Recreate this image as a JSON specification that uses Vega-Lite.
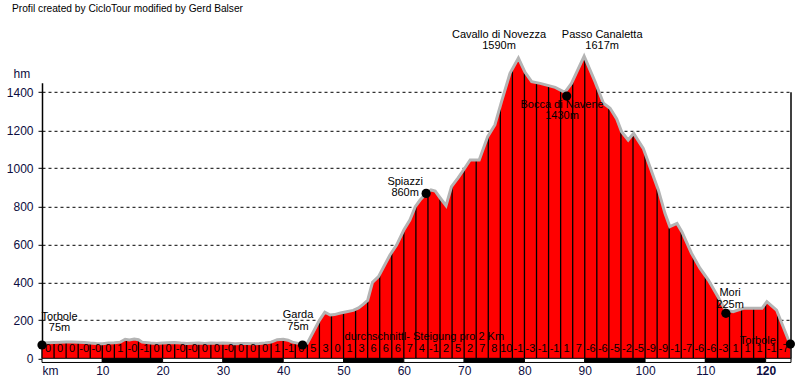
{
  "$schema": "https://vega.github.io/schema/vega-lite/v6.json",
  "width": 749,
  "height": 275.5,
  "autosize": {"type": "none"},
  "padding": {"left": 42, "top": 82.8, "right": 7, "bottom": 22.7},
  "background": "white",
  "title": {"text": "Profil created by CicloTour modified by Gerd Balser", "anchor": "start", "frame": "group", "dx": -30, "offset": 14, "fontSize": 10.2, "fontWeight": "normal", "font": "Liberation Sans", "color": "black"},
  "config": {"view": {"stroke": null}, "font": "Liberation Sans", "text": {"font": "Liberation Sans"}},
  "datasets": {
    "profile": [
      {"km": 0, "elev": 80}, {"km": 1, "elev": 82}, {"km": 2, "elev": 83}, {"km": 3, "elev": 84}, {"km": 4, "elev": 86}, {"km": 5, "elev": 86}, {"km": 6, "elev": 85}, {"km": 7, "elev": 83}, {"km": 8, "elev": 80}, {"km": 9, "elev": 78}, {"km": 10, "elev": 77}, {"km": 11, "elev": 80}, {"km": 12, "elev": 82}, {"km": 13, "elev": 85}, {"km": 13.8, "elev": 100}, {"km": 14.5, "elev": 97}, {"km": 15.3, "elev": 102}, {"km": 16, "elev": 98}, {"km": 16.6, "elev": 85}, {"km": 18, "elev": 80}, {"km": 19, "elev": 78}, {"km": 20, "elev": 80}, {"km": 21, "elev": 82}, {"km": 22, "elev": 83}, {"km": 23, "elev": 80}, {"km": 24, "elev": 78}, {"km": 25, "elev": 79}, {"km": 26, "elev": 80}, {"km": 27, "elev": 78}, {"km": 28, "elev": 80}, {"km": 29, "elev": 79}, {"km": 30, "elev": 80}, {"km": 31, "elev": 79}, {"km": 32, "elev": 77}, {"km": 33, "elev": 78}, {"km": 34, "elev": 78}, {"km": 35, "elev": 77}, {"km": 36, "elev": 78}, {"km": 37, "elev": 80}, {"km": 38, "elev": 85}, {"km": 39, "elev": 98}, {"km": 40, "elev": 100}, {"km": 40.8, "elev": 95}, {"km": 41.5, "elev": 85}, {"km": 42.3, "elev": 80}, {"km": 43.2, "elev": 75}, {"km": 44, "elev": 80}, {"km": 45, "elev": 140}, {"km": 46, "elev": 200}, {"km": 46.9, "elev": 243}, {"km": 47.8, "elev": 228}, {"km": 48.5, "elev": 230}, {"km": 49.5, "elev": 238}, {"km": 50.5, "elev": 245}, {"km": 51.6, "elev": 252}, {"km": 52.5, "elev": 265}, {"km": 53.3, "elev": 285}, {"km": 54, "elev": 305}, {"km": 54.8, "elev": 400}, {"km": 55.8, "elev": 430}, {"km": 56.8, "elev": 490}, {"km": 57.7, "elev": 544}, {"km": 58.8, "elev": 596}, {"km": 60, "elev": 675}, {"km": 61, "elev": 728}, {"km": 61.9, "elev": 798}, {"km": 62.7, "elev": 833}, {"km": 63.7, "elev": 868}, {"km": 64.5, "elev": 886}, {"km": 65.2, "elev": 880}, {"km": 66, "elev": 845}, {"km": 67, "elev": 803}, {"km": 67.9, "elev": 903}, {"km": 69, "elev": 950}, {"km": 69.9, "elev": 991}, {"km": 71, "elev": 1044}, {"km": 72.5, "elev": 1044}, {"km": 73.9, "elev": 1166}, {"km": 75.1, "elev": 1228}, {"km": 76.2, "elev": 1351}, {"km": 77.6, "elev": 1500}, {"km": 79, "elev": 1580}, {"km": 80.1, "elev": 1505}, {"km": 81.2, "elev": 1456}, {"km": 82.6, "elev": 1447}, {"km": 85.1, "elev": 1426}, {"km": 86.7, "elev": 1400}, {"km": 87.8, "elev": 1447}, {"km": 89.9, "elev": 1590}, {"km": 91.7, "elev": 1456}, {"km": 93.1, "elev": 1342}, {"km": 94.2, "elev": 1316}, {"km": 95.3, "elev": 1260}, {"km": 96.1, "elev": 1193}, {"km": 97.2, "elev": 1149}, {"km": 98.1, "elev": 1184}, {"km": 99.7, "elev": 1105}, {"km": 100.8, "elev": 1008}, {"km": 102.2, "elev": 886}, {"km": 103.3, "elev": 763}, {"km": 104.1, "elev": 693}, {"km": 105.3, "elev": 710}, {"km": 106.1, "elev": 666}, {"km": 107.7, "elev": 553}, {"km": 109.1, "elev": 474}, {"km": 110.5, "elev": 412}, {"km": 111.9, "elev": 335}, {"km": 113.3, "elev": 254}, {"km": 114.6, "elev": 245}, {"km": 116.3, "elev": 263}, {"km": 119.4, "elev": 263}, {"km": 120.2, "elev": 298}, {"km": 121.8, "elev": 254}, {"km": 122.9, "elev": 166}, {"km": 123.9, "elev": 87}, {"km": 124.1, "elev": 75}
    ],
    "segments": [
      {"km": 0, "mid": 1, "elev": 80, "grade": "0"}, {"km": 2, "mid": 3, "elev": 83, "grade": "0"}, {"km": 4, "mid": 5, "elev": 86, "grade": "0"}, {"km": 6, "mid": 7, "elev": 85, "grade": "-0"}, {"km": 8, "mid": 9, "elev": 80, "grade": "-0"}, {"km": 10, "mid": 11, "elev": 77, "grade": "0"}, {"km": 12, "mid": 13, "elev": 82, "grade": "1"}, {"km": 14, "mid": 15, "elev": 99, "grade": "-0"}, {"km": 16, "mid": 17, "elev": 98, "grade": "-1"}, {"km": 18, "mid": 19, "elev": 80, "grade": "0"},
      {"km": 20, "mid": 21, "elev": 80, "grade": "0"}, {"km": 22, "mid": 23, "elev": 83, "grade": "-0"}, {"km": 24, "mid": 25, "elev": 78, "grade": "-0"}, {"km": 26, "mid": 27, "elev": 80, "grade": "0"}, {"km": 28, "mid": 29, "elev": 80, "grade": "0"}, {"km": 30, "mid": 31, "elev": 80, "grade": "-0"}, {"km": 32, "mid": 33, "elev": 77, "grade": "0"}, {"km": 34, "mid": 35, "elev": 78, "grade": "0"}, {"km": 36, "mid": 37, "elev": 78, "grade": "0"}, {"km": 38, "mid": 39, "elev": 85, "grade": "1"},
      {"km": 40, "mid": 41, "elev": 100, "grade": "-1"}, {"km": 42, "mid": 43, "elev": 82, "grade": "0"}, {"km": 44, "mid": 45, "elev": 80, "grade": "5"}, {"km": 46, "mid": 47, "elev": 200, "grade": "3"}, {"km": 48, "mid": 49, "elev": 229, "grade": "0"}, {"km": 50, "mid": 51, "elev": 242, "grade": "1"}, {"km": 52, "mid": 53, "elev": 258, "grade": "3"}, {"km": 54, "mid": 55, "elev": 305, "grade": "6"}, {"km": 56, "mid": 57, "elev": 440, "grade": "6"}, {"km": 58, "mid": 59, "elev": 556, "grade": "6"},
      {"km": 60, "mid": 61, "elev": 675, "grade": "7"}, {"km": 62, "mid": 63, "elev": 802, "grade": "4"}, {"km": 64, "mid": 65, "elev": 875, "grade": "-1"}, {"km": 66, "mid": 67, "elev": 845, "grade": "2"}, {"km": 68, "mid": 69, "elev": 908, "grade": "5"}, {"km": 70, "mid": 71, "elev": 995, "grade": "2"}, {"km": 72, "mid": 73, "elev": 1044, "grade": "7"}, {"km": 74, "mid": 75, "elev": 1170, "grade": "8"}, {"km": 76, "mid": 77, "elev": 1330, "grade": "10"}, {"km": 78, "mid": 79, "elev": 1520, "grade": "-1"},
      {"km": 80, "mid": 81, "elev": 1505, "grade": "-3"}, {"km": 82, "mid": 83, "elev": 1448, "grade": "-1"}, {"km": 84, "mid": 85, "elev": 1432, "grade": "-1"}, {"km": 86, "mid": 87, "elev": 1412, "grade": "1"}, {"km": 88, "mid": 89, "elev": 1455, "grade": "7"}, {"km": 90, "mid": 91, "elev": 1585, "grade": "-6"}, {"km": 92, "mid": 93, "elev": 1435, "grade": "-6"}, {"km": 94, "mid": 95, "elev": 1320, "grade": "-5"}, {"km": 96, "mid": 97, "elev": 1200, "grade": "-2"}, {"km": 98, "mid": 99, "elev": 1180, "grade": "-5"},
      {"km": 100, "mid": 101, "elev": 1070, "grade": "-9"}, {"km": 102, "mid": 103, "elev": 900, "grade": "-9"}, {"km": 104, "mid": 105, "elev": 700, "grade": "-1"}, {"km": 106, "mid": 107, "elev": 670, "grade": "-7"}, {"km": 108, "mid": 109, "elev": 540, "grade": "-6"}, {"km": 110, "mid": 111, "elev": 430, "grade": "-6"}, {"km": 112, "mid": 113, "elev": 330, "grade": "-3"}, {"km": 114, "mid": 115, "elev": 250, "grade": "1"}, {"km": 116, "mid": 117, "elev": 260, "grade": "1"}, {"km": 118, "mid": 119, "elev": 263, "grade": "1"},
      {"km": 120, "mid": 121, "elev": 290, "grade": "-1"}, {"km": 122, "mid": 123, "elev": 240, "grade": "-7"}
    ],
    "scalebar": [
      {"a": 0, "b": 10, "s": "odd"}, {"a": 10, "b": 20, "s": "even"}, {"a": 20, "b": 30, "s": "odd"}, {"a": 30, "b": 40, "s": "even"}, {"a": 40, "b": 50, "s": "odd"}, {"a": 50, "b": 60, "s": "even"}, {"a": 60, "b": 70, "s": "odd"}, {"a": 70, "b": 80, "s": "even"}, {"a": 80, "b": 90, "s": "odd"}, {"a": 90, "b": 100, "s": "even"}, {"a": 100, "b": 110, "s": "odd"}, {"a": 110, "b": 120, "s": "even"}, {"a": 120, "b": 124.2, "s": "odd"}
    ],
    "places": [
      {"id": "torbole1", "label": "Torbole\n75m", "km": 0, "elev": 70},
      {"id": "garda", "label": "Garda\n75m", "km": 43.2, "elev": 70},
      {"id": "spiazzi", "label": "Spiazzi\n860m", "km": 63.7, "elev": 868},
      {"id": "cavallo", "label": "Cavallo di Novezza\n1590m", "km": 79, "elev": 1580},
      {"id": "canaletta", "label": "Passo Canaletta\n1617m", "km": 89.9, "elev": 1590},
      {"id": "bocca", "label": "Bocca di Navene\n1430m", "km": 87, "elev": 1380},
      {"id": "mori", "label": "Mori\n225m", "km": 113.4, "elev": 237},
      {"id": "torbole2", "label": "Torbole", "km": 124.1, "elev": 75}
    ],
    "note": [{"text": "durchschnittl- Steigung pro 2 Km"}]
  },
  "layer": [
    {
      "data": {"name": "profile"},
      "mark": {"type": "area", "color": "#ff0000"},
      "encoding": {
        "x": {"field": "km", "type": "quantitative", "scale": {"domain": [0, 124.2], "nice": false, "zero": false},
          "axis": {"values": [0, 10, 20, 30, 40, 50, 60, 70, 80, 90, 100, 110, 120], "title": null, "grid": false, "ticks": false, "domainColor": "black", "domainWidth": 1, "labelPadding": 7, "labelFontSize": 12, "labelColor": "#0c0c40", "labelFlush": false, "labelOverlap": false, "labelExpr": "datum.value == 0 ? 'km' : datum.label", "labelAlign": {"condition": {"test": "datum.value == 0", "value": "left"}, "value": "center"}, "labelFontWeight": {"condition": {"test": "datum.value == 120", "value": "bold"}, "value": "normal"}}},
        "y": {"field": "elev", "type": "quantitative", "scale": {"domain": [0, 1450], "nice": false},
          "axis": {"values": [0, 200, 400, 600, 800, 1000, 1200, 1400], "tickCount": 8, "format": "d", "labelOverlap": false, "labelFlush": false, "title": "hm", "titleAngle": 0, "titleAlign": "left", "titleBaseline": "middle", "titleX": -29, "titleY": -9.5, "titleFontSize": 12, "titleFontWeight": "normal", "titleColor": "#0c0c40", "grid": true, "gridDash": [3, 3], "gridColor": "black", "gridWidth": 1, "gridOpacity": 1, "domainColor": "black", "domainWidth": 1.5, "tickColor": "black", "tickSize": 4, "labelPadding": 5, "labelFontSize": 12, "labelColor": "#0c0c40"}}
      }
    },
    {
      "data": {"name": "segments"},
      "mark": {"type": "rule", "color": "black", "strokeWidth": 1.3},
      "encoding": {
        "x": {"field": "km", "type": "quantitative"},
        "y": {"field": "elev", "type": "quantitative"},
        "y2": {"datum": 0}
      }
    },
    {
      "data": {"name": "profile"},
      "mark": {"type": "line", "color": "#b4b4b4", "strokeWidth": 3},
      "encoding": {
        "x": {"field": "km", "type": "quantitative"},
        "y": {"field": "elev", "type": "quantitative"}
      }
    },
    {
      "data": {"name": "segments"},
      "mark": {"type": "text", "fontSize": 11, "color": "black", "baseline": "middle", "align": "center", "dy": -9},
      "encoding": {
        "x": {"field": "mid", "type": "quantitative"},
        "y": {"datum": 0},
        "text": {"field": "grade"}
      }
    },
    {
      "data": {"name": "note"},
      "mark": {"type": "text", "fontSize": 11, "color": "black", "baseline": "middle", "align": "center"},
      "encoding": {
        "x": {"datum": 63.4},
        "y": {"datum": 112},
        "text": {"field": "text"}
      }
    },
    {
      "data": {"name": "scalebar"},
      "mark": {"type": "rect", "stroke": "black", "strokeWidth": 1},
      "encoding": {
        "x": {"field": "a", "type": "quantitative"},
        "x2": {"field": "b"},
        "y": {"datum": 0},
        "y2": {"datum": -22},
        "fill": {"field": "s", "type": "nominal", "scale": {"domain": ["odd", "even"], "range": ["white", "black"]}, "legend": null}
      }
    },
    {
      "data": {"name": "note"},
      "mark": {"type": "rule", "color": "black", "strokeWidth": 1.5},
      "encoding": {
        "x": {"datum": 124.2},
        "y": {"datum": 0},
        "y2": {"datum": 1400}
      }
    },
    {
      "data": {"name": "places"},
      "transform": [{"filter": "datum.id != 'cavallo' && datum.id != 'canaletta'"}],
      "mark": {"type": "point", "filled": true, "color": "black", "size": 85, "opacity": 1},
      "encoding": {
        "x": {"field": "km", "type": "quantitative"},
        "y": {"field": "elev", "type": "quantitative"}
      }
    },
    {
      "data": {"name": "places"},
      "transform": [{"filter": "datum.id == 'torbole1'"}],
      "mark": {"type": "text", "fontSize": 11, "color": "black", "align": "center", "baseline": "middle", "lineBreak": "\n", "lineHeight": 11.5, "dx": 17.5, "dy": -28.5},
      "encoding": {"x": {"field": "km", "type": "quantitative"}, "y": {"field": "elev", "type": "quantitative"}, "text": {"field": "label"}}
    },
    {
      "data": {"name": "places"},
      "transform": [{"filter": "datum.id == 'garda'"}],
      "mark": {"type": "text", "fontSize": 11, "color": "black", "align": "center", "baseline": "middle", "lineBreak": "\n", "lineHeight": 11.5, "dx": -4.5, "dy": -30},
      "encoding": {"x": {"field": "km", "type": "quantitative"}, "y": {"field": "elev", "type": "quantitative"}, "text": {"field": "label"}}
    },
    {
      "data": {"name": "places"},
      "transform": [{"filter": "datum.id == 'spiazzi'"}],
      "mark": {"type": "text", "fontSize": 11, "color": "black", "align": "center", "baseline": "middle", "lineBreak": "\n", "lineHeight": 11.5, "dx": -21, "dy": -11.5},
      "encoding": {"x": {"field": "km", "type": "quantitative"}, "y": {"field": "elev", "type": "quantitative"}, "text": {"field": "label"}}
    },
    {
      "data": {"name": "places"},
      "transform": [{"filter": "datum.id == 'cavallo'"}],
      "mark": {"type": "text", "fontSize": 11, "color": "black", "align": "center", "baseline": "middle", "lineBreak": "\n", "lineHeight": 11.5, "dx": -19.4, "dy": -23.5},
      "encoding": {"x": {"field": "km", "type": "quantitative"}, "y": {"field": "elev", "type": "quantitative"}, "text": {"field": "label"}}
    },
    {
      "data": {"name": "places"},
      "transform": [{"filter": "datum.id == 'canaletta'"}],
      "mark": {"type": "text", "fontSize": 11, "color": "black", "align": "center", "baseline": "middle", "lineBreak": "\n", "lineHeight": 11.5, "dx": 18, "dy": -21.5},
      "encoding": {"x": {"field": "km", "type": "quantitative"}, "y": {"field": "elev", "type": "quantitative"}, "text": {"field": "label"}}
    },
    {
      "data": {"name": "places"},
      "transform": [{"filter": "datum.id == 'bocca'"}],
      "mark": {"type": "text", "fontSize": 11, "color": "black", "align": "center", "baseline": "middle", "lineBreak": "\n", "lineHeight": 11.5, "dx": -4.6, "dy": 8.5},
      "encoding": {"x": {"field": "km", "type": "quantitative"}, "y": {"field": "elev", "type": "quantitative"}, "text": {"field": "label"}}
    },
    {
      "data": {"name": "places"},
      "transform": [{"filter": "datum.id == 'mori'"}],
      "mark": {"type": "text", "fontSize": 11, "color": "black", "align": "center", "baseline": "middle", "lineBreak": "\n", "lineHeight": 11.5, "dx": 4.2, "dy": -20},
      "encoding": {"x": {"field": "km", "type": "quantitative"}, "y": {"field": "elev", "type": "quantitative"}, "text": {"field": "label"}}
    },
    {
      "data": {"name": "places"},
      "transform": [{"filter": "datum.id == 'torbole2'"}],
      "mark": {"type": "text", "fontSize": 11, "color": "black", "align": "center", "baseline": "middle", "dx": -32.6, "dy": -3},
      "encoding": {"x": {"field": "km", "type": "quantitative"}, "y": {"field": "elev", "type": "quantitative"}, "text": {"field": "label"}}
    }
  ]
}
